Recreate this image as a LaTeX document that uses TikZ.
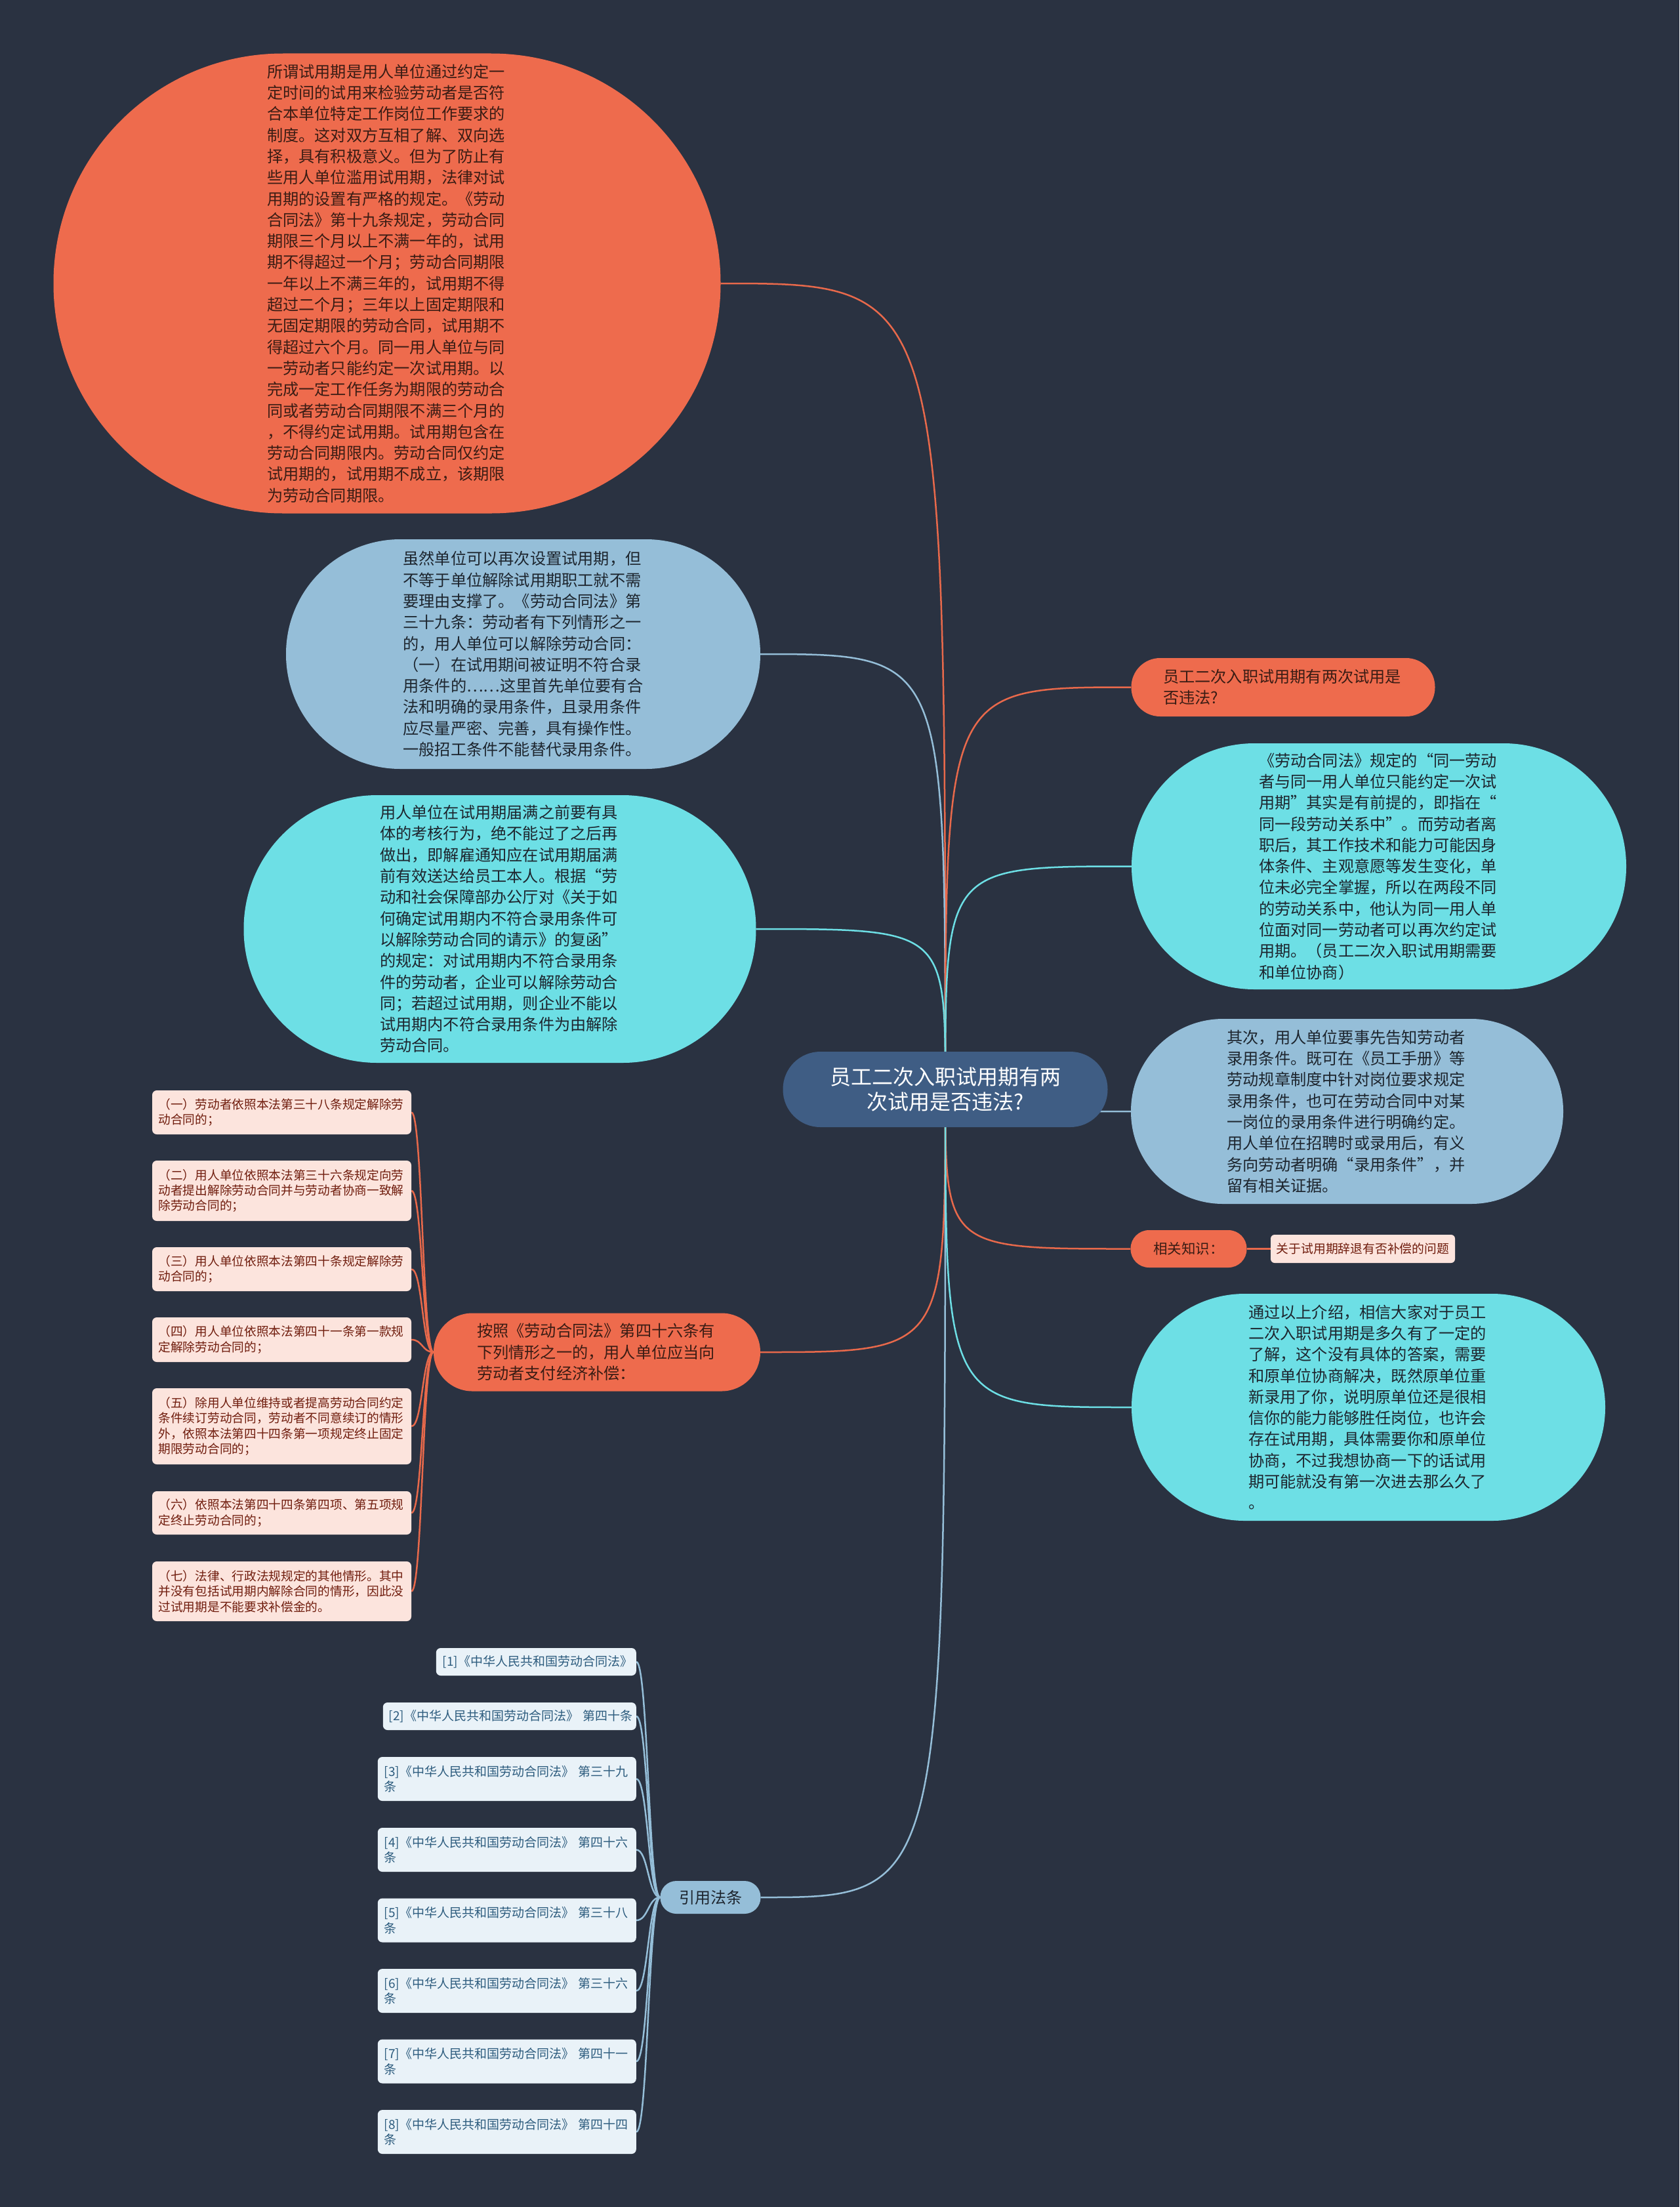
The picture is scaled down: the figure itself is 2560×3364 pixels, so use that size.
\documentclass[tikz,border=0pt]{standalone}
\usepackage{fontspec}
\setmainfont{Noto Sans CJK SC}
\definecolor{bgc}{HTML}{2A3241}
\definecolor{rootc}{HTML}{3F5D84}
\definecolor{orangec}{HTML}{EE6B4D}
\definecolor{cyanc}{HTML}{6DDFE5}
\definecolor{bluec}{HTML}{95BED8}
\definecolor{pinkc}{HTML}{FCE4DD}
\definecolor{refc}{HTML}{E9F2F8}
\definecolor{darkt}{HTML}{1D252E}
\definecolor{brownt}{HTML}{3A1C14}
\definecolor{pinkt}{HTML}{701D0E}
\definecolor{reft}{HTML}{2D5C7E}
\definecolor{lineo}{HTML}{E8694B}
\definecolor{linec}{HTML}{6DDFE5}
\definecolor{lineb}{HTML}{95BED8}
\pgfdeclarelayer{bglayer}
\pgfdeclarelayer{connlayer}
\pgfsetlayers{bglayer,connlayer,main}
\tikzset{
  sz/.style args={#1/#2}{minimum width=#1pt, minimum height=#2pt, rounded corners={#2pt/2-0.5pt}},
  pill/.style={rectangle, inner sep=0pt, align=left},
  body/.style={pill, font=\fontsize{24.2}{32.3}\selectfont, text width=366pt},
  onode/.style={fill=orangec, text=brownt},
  cnode/.style={fill=cyanc, text=darkt},
  bnode/.style={fill=bluec, text=darkt},
  pinkbox/.style={rectangle, fill=pinkc, text=pinkt, rounded corners=7pt, inner xsep=9.5pt, inner ysep=0pt, align=left, text width=376pt, minimum height=#1pt, font=\fontsize{18.7}{23.3}\selectfont},
  refbox/.style args={#1/#2}{rectangle, fill=refc, text=reft, rounded corners=7pt, inner xsep=10pt, inner ysep=0pt, align=left, text width=#1pt, minimum height=#2pt, anchor=east, font=\fontsize{19}{23.3}\selectfont},
  conn/.style={line width=2.5pt},
}
\begin{document}
\begin{tikzpicture}[x=1pt,y=-1pt]
\useasboundingbox (0,0) rectangle (2560,3364);
\begin{pgfonlayer}{bglayer}
\fill[bgc] (0,0) rectangle (2560,3364);
\end{pgfonlayer}

% root
\node[pill, sz=495/115, fill=rootc, text=white, align=center, font=\fontsize{32}{38}\selectfont] (root) at (1441,1660.5) {员工二次入职试用期有两\\次试用是否违法?};

% left side
\node[body, onode, sz=1017/701] (ob) at (590,432) {所谓试用期是用人单位通过约定一\\
定时间的试用来检验劳动者是否符\\
合本单位特定工作岗位工作要求的\\
制度。这对双方互相了解、双向选\\
择，具有积极意义。但为了防止有\\
些用人单位滥用试用期，法律对试\\
用期的设置有严格的规定。《劳动\\
合同法》第十九条规定，劳动合同\\
期限三个月以上不满一年的，试用\\
期不得超过一个月；劳动合同期限\\
一年以上不满三年的，试用期不得\\
超过二个月；三年以上固定期限和\\
无固定期限的劳动合同，试用期不\\
得超过六个月。同一用人单位与同\\
一劳动者只能约定一次试用期。以\\
完成一定工作任务为期限的劳动合\\
同或者劳动合同期限不满三个月的\\
，不得约定试用期。试用期包含在\\
劳动合同期限内。劳动合同仅约定\\
试用期的，试用期不成立，该期限\\
为劳动合同期限。};

\node[body, bnode, sz=723/350] (bl) at (797.5,997) {虽然单位可以再次设置试用期，但\\
不等于单位解除试用期职工就不需\\
要理由支撑了。《劳动合同法》第\\
三十九条：劳动者有下列情形之一\\
的，用人单位可以解除劳动合同：\\
（一）在试用期间被证明不符合录\\
用条件的……这里首先单位要有合\\
法和明确的录用条件，且录用条件\\
应尽量严密、完善，具有操作性。\\
一般招工条件不能替代录用条件。};

\node[body, cnode, sz=781/408] (cl) at (762,1416) {用人单位在试用期届满之前要有具\\
体的考核行为，绝不能过了之后再\\
做出，即解雇通知应在试用期届满\\
前有效送达给员工本人。根据“劳\\
动和社会保障部办公厅对《关于如\\
何确定试用期内不符合录用条件可\\
以解除劳动合同的请示》的复函”\\
的规定：对试用期内不符合录用条\\
件的劳动者，企业可以解除劳动合\\
同；若超过试用期，则企业不能以\\
试用期内不符合录用条件为由解除\\
劳动合同。};

\node[body, onode, sz=498/119] (lf) at (910,2061) {按照《劳动合同法》第四十六条有\\
下列情形之一的，用人单位应当向\\
劳动者支付经济补偿：};

\node[pill, bnode, sz=153/50, font=\fontsize{24}{30}\selectfont] (yy) at (1083,2892) {引用法条};

% pink children
\node[pinkbox=67] (p1) at (429.5,1695.5) {（一）劳动者依照本法第三十八条规定解除劳\\动合同的；};
\node[pinkbox=92] (p2) at (429.5,1815) {（二）用人单位依照本法第三十六条规定向劳\\动者提出解除劳动合同并与劳动者协商一致解\\除劳动合同的；};
\node[pinkbox=67] (p3) at (429.5,1934.5) {（三）用人单位依照本法第四十条规定解除劳\\动合同的；};
\node[pinkbox=68] (p4) at (429.5,2042) {（四）用人单位依照本法第四十一条第一款规\\定解除劳动合同的；};
\node[pinkbox=116] (p5) at (429.5,2174) {（五）除用人单位维持或者提高劳动合同约定\\条件续订劳动合同，劳动者不同意续订的情形\\外，依照本法第四十四条第一项规定终止固定\\期限劳动合同的；};
\node[pinkbox=66] (p6) at (429.5,2306) {（六）依照本法第四十四条第四项、第五项规\\定终止劳动合同的；};
\node[pinkbox=91] (p7) at (429.5,2425.5) {（七）法律、行政法规规定的其他情形。其中\\并没有包括试用期内解除合同的情形，因此没\\过试用期是不能要求补偿金的。};

% reference children
\node[refbox=285/42] (r1) at (970,2533) {[1]《中华人民共和国劳动合同法》};
\node[refbox=368/42, inner xsep=9pt] (r2) at (970,2616) {[2]《中华人民共和国劳动合同法》~第四十条};
\node[refbox=374/67] (r3) at (970,2711.5) {[3]《中华人民共和国劳动合同法》 第三十九\\条};
\node[refbox=374/67] (r4) at (970,2819.5) {[4]《中华人民共和国劳动合同法》 第四十六\\条};
\node[refbox=374/67] (r5) at (970,2927) {[5]《中华人民共和国劳动合同法》 第三十八\\条};
\node[refbox=374/67] (r6) at (970,3034.5) {[6]《中华人民共和国劳动合同法》 第三十六\\条};
\node[refbox=374/67] (r7) at (970,3142) {[7]《中华人民共和国劳动合同法》 第四十一\\条};
\node[refbox=374/67] (r8) at (970,3249.5) {[8]《中华人民共和国劳动合同法》 第四十四\\条};

% right side
\node[body, onode, sz=463/89] (r1n) at (1956,1047.5) {员工二次入职试用期有两次试用是\\否违法?};

\node[body, cnode, sz=754/375] (r2n) at (2102,1320.5) {《劳动合同法》规定的“同一劳动\\
者与同一用人单位只能约定一次试\\
用期”其实是有前提的，即指在“\\
同一段劳动关系中”。而劳动者离\\
职后，其工作技术和能力可能因身\\
体条件、主观意愿等发生变化，单\\
位未必完全掌握，所以在两段不同\\
的劳动关系中，他认为同一用人单\\
位面对同一劳动者可以再次约定试\\
用期。（员工二次入职试用期需要\\
和单位协商）};

\node[body, bnode, sz=659/282] (r3n) at (2053.5,1694) {其次，用人单位要事先告知劳动者\\
录用条件。既可在《员工手册》等\\
劳动规章制度中针对岗位要求规定\\
录用条件，也可在劳动合同中对某\\
一岗位的录用条件进行明确约定。\\
用人单位在招聘时或录用后，有义\\
务向劳动者明确“录用条件”，并\\
留有相关证据。};

\node[pill, onode, sz=177/57, font=\fontsize{21.5}{26}\selectfont] (xg) at (1812,1903.5) {相关知识：};
\node[rectangle, fill=pinkc, text=pinkt, rounded corners=6pt, inner sep=0pt, minimum width=281pt, minimum height=43pt, font=\fontsize{18.8}{23}\selectfont] (xgc) at (2077.5,1903.5) {关于试用期辞退有否补偿的问题};

\node[body, cnode, sz=722/346] (r5n) at (2086,2145) {通过以上介绍，相信大家对于员工\\
二次入职试用期是多久有了一定的\\
了解，这个没有具体的答案，需要\\
和原单位协商解决，既然原单位重\\
新录用了你，说明原单位还是很相\\
信你的能力能够胜任岗位，也许会\\
存在试用期，具体需要你和原单位\\
协商，不过我想协商一下的话试用\\
期可能就没有第一次进去那么久了\\
。};

% connectors
\begin{pgfonlayer}{connlayer}
\draw[conn, lineo] (root.center) .. controls (root.center |- ob.east) .. (ob.east);
\draw[conn, lineb] (root.center) .. controls (root.center |- bl.east) .. (bl.east);
\draw[conn, linec] (root.center) .. controls (root.center |- cl.east) .. (cl.east);
\draw[conn, lineo] (root.center) .. controls (root.center |- lf.east) .. (lf.east);
\draw[conn, lineb] (root.center) .. controls (root.center |- yy.east) .. (yy.east);
\draw[conn, lineo] (root.center) .. controls (root.center |- r1n.west) .. (r1n.west);
\draw[conn, linec] (root.center) .. controls (root.center |- r2n.west) .. (r2n.west);
\draw[conn, lineb] (root.center) .. controls (root.center |- r3n.west) .. (r3n.west);
\draw[conn, lineo] (root.center) .. controls (root.center |- xg.west) .. (xg.west);
\draw[conn, linec] (root.center) .. controls (root.center |- r5n.west) .. (r5n.west);
\draw[conn, lineo] (xg.east) -- (xgc.west);
\foreach \c in {p1,p2,p3,p4,p5,p6,p7}
  \draw[conn, lineo] (lf.west) .. controls +(-17,0) and +(17,0) .. (\c.east);
\foreach \c in {r1,r2,r3,r4,r5,r6,r7,r8}
  \draw[conn, lineb] (yy.west) .. controls +(-18,0) and +(18,0) .. (\c.east);
\end{pgfonlayer}
\end{tikzpicture}
\end{document}
